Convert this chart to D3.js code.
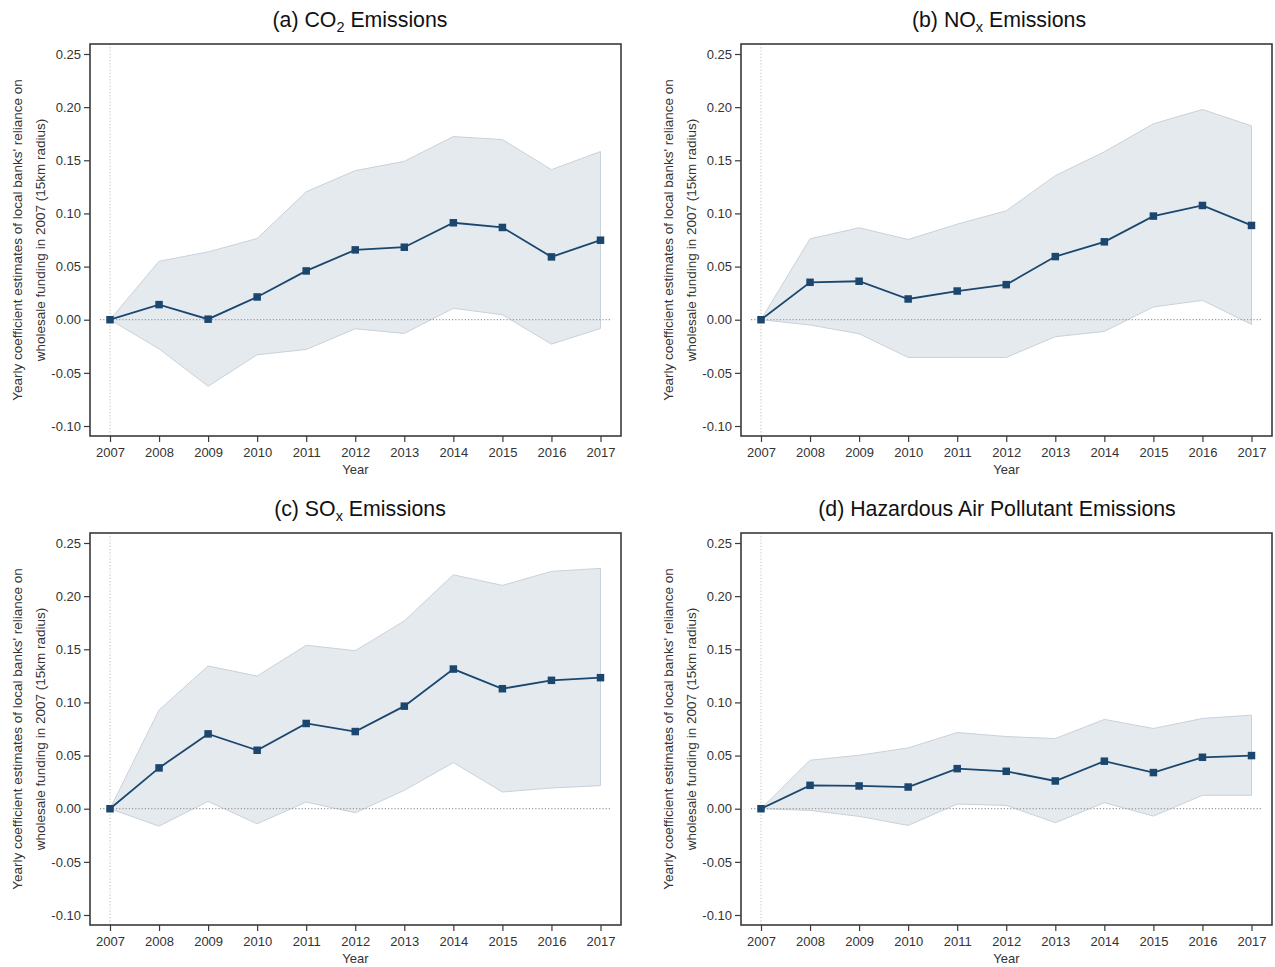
<!DOCTYPE html>
<html>
<head>
<meta charset="utf-8">
<script src="https://cdn.jsdelivr.net/npm/d3@7"></script>
<style>
  html, body { margin: 0; padding: 0; background: #ffffff; }
  svg { display: block; font-family: "Liberation Sans", Arial, Helvetica, sans-serif; }
</style>
</head>
<body>
<svg id="chart" width="1275" height="967"></svg>
<script>
// Event-study estimates by year, with 95% confidence bands
const years = [2007, 2008, 2009, 2010, 2011, 2012, 2013, 2014, 2015, 2016, 2017];
const yTicks = [0.25, 0.20, 0.15, 0.10, 0.05, 0.00, -0.05, -0.10];

// (a) CO2
const co2Coef  = [0, 0.0142, 0.0005, 0.0214, 0.0459, 0.0657, 0.0682, 0.0912, 0.0868, 0.0591, 0.0748];
const co2Lower = [0, -0.0274, -0.0626, -0.0330, -0.0280, -0.0085, -0.0129, 0.0107, 0.0047, -0.0230, -0.0082];
const co2Upper = [0, 0.0550, 0.0638, 0.0764, 0.1204, 0.1403, 0.1490, 0.1723, 0.1695, 0.1412, 0.1582];

// (b) NOx
const noxCoef  = [0, 0.0352, 0.0362, 0.0195, 0.0270, 0.0330, 0.0594, 0.0733, 0.0975, 0.1075, 0.0887];
const noxLower = [0, -0.0050, -0.0132, -0.0355, -0.0355, -0.0355, -0.0160, -0.0110, 0.0120, 0.0182, -0.0044];
const noxUpper = [0, 0.0761, 0.0865, 0.0755, 0.0899, 0.1025, 0.1355, 0.1580, 0.1843, 0.1978, 0.1824];

// (c) SOx
const soxCoef  = [0, 0.0384, 0.0704, 0.0550, 0.0802, 0.0726, 0.0965, 0.1314, 0.1129, 0.1208, 0.1233];
const soxLower = [0, -0.0164, 0.0069, -0.0142, 0.0063, -0.0038, 0.0173, 0.0434, 0.0157, 0.0195, 0.0217];
const soxUpper = [0, 0.0928, 0.1343, 0.1248, 0.1538, 0.1487, 0.1767, 0.2201, 0.2101, 0.2233, 0.2261];

// (d) Hazardous air pollutants
const hapCoef  = [0, 0.0220, 0.0214, 0.0204, 0.0377, 0.0352, 0.0261, 0.0447, 0.0340, 0.0484, 0.0500];
const hapLower = [0, -0.0016, -0.0072, -0.0157, 0.0044, 0.0031, -0.0132, 0.0057, -0.0069, 0.0126, 0.0126];
const hapUpper = [0, 0.0456, 0.0503, 0.0572, 0.0717, 0.0679, 0.0660, 0.0840, 0.0755, 0.0849, 0.0880];

const yTitle1 = "Yearly coefficient estimates of local banks' reliance on";
const yTitle2 = "wholesale funding in 2007 (15km radius)";
const xTitle = "Year";

// Panel layout: plot frame boxes and title centres
const panels = [
  { pre: "(a) CO", sub: "2", post: " Emissions", coef: co2Coef, lo: co2Lower, hi: co2Upper,
    box: { x0: 90, y0: 44, x1: 621, y1: 436 }, titleX: 360 },
  { pre: "(b) NO", sub: "x", post: " Emissions", coef: noxCoef, lo: noxLower, hi: noxUpper,
    box: { x0: 741, y0: 44, x1: 1272, y1: 436 }, titleX: 999 },
  { pre: "(c) SO", sub: "x", post: " Emissions", coef: soxCoef, lo: soxLower, hi: soxUpper,
    box: { x0: 90, y0: 533, x1: 621, y1: 925 }, titleX: 360 },
  { pre: "(d) Hazardous Air Pollutant Emissions", sub: "", post: "", coef: hapCoef, lo: hapLower, hi: hapUpper,
    box: { x0: 741, y0: 533, x1: 1272, y1: 925 }, titleX: 997 }
];

const ink = "#333333";
const navy = "#1b476f";
const svg = d3.select("#chart");

panels.forEach(p => {
  const b = p.box;
  const g = svg.append("g");

  const x = d3.scaleLinear().domain([2007, 2017]).range([b.x0 + 20, b.x1 - 20.5]);
  const y = d3.scaleLinear().domain([-0.10, 0.25]).range([b.y1 - 10, b.y0 + 10]);

  const rows = years.map((yr, i) => ({ yr, c: p.coef[i], lo: p.lo[i], hi: p.hi[i] }));

  // confidence band
  g.append("path")
    .datum(rows)
    .attr("d", d3.area().x(d => x(d.yr)).y0(d => y(d.lo)).y1(d => y(d.hi)))
    .attr("fill", "#e5eaef")
    .attr("stroke", "#c9d1da")
    .attr("stroke-width", 1);

  // reference lines
  g.append("line")
    .attr("x1", b.x0 + 10).attr("x2", b.x1 - 10)
    .attr("y1", y(0)).attr("y2", y(0))
    .attr("stroke", "#9a9a9a").attr("stroke-width", 1.2)
    .attr("stroke-dasharray", "1.2 2");
  g.append("line")
    .attr("x1", x(2007)).attr("x2", x(2007))
    .attr("y1", b.y0).attr("y2", b.y1)
    .attr("stroke", "#c8c8c8").attr("stroke-width", 1.2)
    .attr("stroke-dasharray", "1.2 2");

  // point estimates
  g.append("path")
    .datum(rows)
    .attr("d", d3.line().x(d => x(d.yr)).y(d => y(d.c)))
    .attr("fill", "none")
    .attr("stroke", navy)
    .attr("stroke-width", 1.8);

  const s = 7.5;
  g.selectAll("rect.pt")
    .data(rows)
    .join("rect")
    .attr("class", "pt")
    .attr("x", d => x(d.yr) - s / 2)
    .attr("y", d => y(d.c) - s / 2)
    .attr("width", s).attr("height", s)
    .attr("fill", navy);

  // frame
  g.append("rect")
    .attr("x", b.x0).attr("y", b.y0)
    .attr("width", b.x1 - b.x0).attr("height", b.y1 - b.y0)
    .attr("fill", "none").attr("stroke", "#3a3a3a").attr("stroke-width", 1.6);

  // y axis
  const yAxis = g.append("g")
    .attr("transform", `translate(${b.x0},0)`)
    .call(d3.axisLeft(y).tickValues(yTicks).tickFormat(d3.format(".2f")).tickSize(6).tickPadding(3));
  yAxis.select(".domain").remove();
  yAxis.selectAll(".tick line").attr("stroke", "#3a3a3a").attr("stroke-width", 1.2);
  yAxis.selectAll(".tick text").attr("fill", ink).style("font-size", "13px")
    .style("font-family", "'Liberation Sans', Arial, sans-serif")
    .text(d => d3.format(".2f")(d).replace("−", "-"));

  // x axis
  const xAxis = g.append("g")
    .attr("transform", `translate(0,${b.y1})`)
    .call(d3.axisBottom(x).tickValues(years).tickFormat(d3.format("d")).tickSize(6).tickPadding(6));
  xAxis.select(".domain").remove();
  xAxis.selectAll(".tick line").attr("stroke", "#3a3a3a").attr("stroke-width", 1.2);
  xAxis.selectAll(".tick text").attr("fill", ink).style("font-size", "13px")
    .style("font-family", "'Liberation Sans', Arial, sans-serif");

  // axis titles
  const cx = (b.x0 + b.x1) / 2;
  const cy = (b.y0 + b.y1) / 2;
  g.append("text")
    .attr("x", cx).attr("y", b.y1 + 38)
    .attr("text-anchor", "middle")
    .attr("fill", ink).style("font-size", "13px")
    .text(xTitle);
  [yTitle1, yTitle2].forEach((t, i) => {
    g.append("text")
      .attr("transform", `translate(${b.x0 - 68.5 + i * 23},${cy}) rotate(-90)`)
      .attr("text-anchor", "middle")
      .attr("fill", ink).style("font-size", "13.5px")
      .text(t);
  });

  // panel title with subscript
  const title = g.append("text")
    .attr("x", p.titleX).attr("y", b.y0 - 17)
    .attr("text-anchor", "middle")
    .attr("fill", "#111111").style("font-size", "21.3px");
  title.append("tspan").text(p.pre);
  if (p.sub) {
    title.append("tspan").attr("dy", 5).style("font-size", "14.5px").text(p.sub);
    title.append("tspan").attr("dy", -5).text(p.post);
  }
});
</script>
</body>
</html>
